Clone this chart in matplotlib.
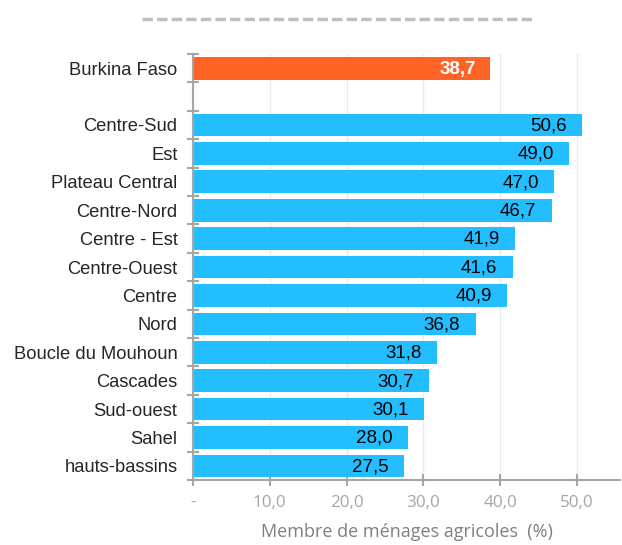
import numpy as np
import matplotlib.pyplot as plt
from matplotlib.lines import Line2D
from matplotlib.ticker import FixedLocator

# data
regions = ['Centre-Sud', 'Est', 'Plateau Central', 'Centre-Nord', 'Centre - Est',
           'Centre-Ouest', 'Centre', 'Nord', 'Boucle du Mouhoun', 'Cascades',
           'Sud-ouest', 'Sahel', 'hauts-bassins']
values = [50.6, 49.0, 47.0, 46.7, 41.9, 41.6, 40.9, 36.8, 31.8, 30.7, 30.1, 28.0, 27.5]
national_label = 'Burkina Faso'
national_value = 38.7
xticks = [0, 10, 20, 30, 40, 50]
xtick_labels = ['-', '10,0', '20,0', '30,0', '40,0', '50,0']

fig = plt.figure(figsize=(6.22, 5.45), dpi=100)
ax = fig.add_axes([0.310, 0.119, 0.687, 0.782])

labels = [national_label, ''] + regions
vals = [national_value, np.nan] + values
colors = ['#FF6326', '#FFFFFF'] + ['#22BEFF'] * len(regions)
y = np.arange(len(labels))

ax.barh(y, np.nan_to_num(vals), height=0.8, color=colors, zorder=2)

# value labels inside bar ends
for yi, v in zip(y, vals):
    if np.isnan(v):
        continue
    txt = '{:.1f}'.format(v).replace('.', ',')
    if yi == 0:
        ax.text(v - 1.8, yi + 0.03, txt, ha='right', va='center', color='white',
                fontsize=13.5, fontweight='bold', family='Liberation Sans', zorder=3)
    else:
        ax.text(v - 2.0, yi + 0.03, txt, ha='right', va='center', color='black',
                fontsize=13.5, family='Liberation Sans', zorder=3)

ax.set_ylim(len(labels) - 0.5, -0.5)
ax.set_xlim(0, 55.6)

ax.set_yticks(y)
ax.set_yticklabels(labels, fontsize=13.2, family='Liberation Sans', color='#262626')
ax.tick_params(axis='y', which='major', length=0, pad=11)
ax.yaxis.set_minor_locator(FixedLocator(np.arange(-0.5, len(labels), 1)))
ax.tick_params(axis='y', which='minor', length=9, width=1.5, color='#A6A6A6', direction='inout')

ax.set_xticks(xticks)
ax.set_xticklabels(xtick_labels, fontsize=12.3, family='Open Sans', color='#A6A6A6')
ax.tick_params(axis='x', length=9, width=1.5, color='#A6A6A6', direction='inout', pad=6)
ax.set_xlabel('Membre de ménages agricoles  (%)', fontsize=13, family='Open Sans',
              color='#7F7F7F', labelpad=9)

ax.grid(axis='x', color='#EBEBEB', linewidth=1, zorder=0)
for s in ['top', 'right']:
    ax.spines[s].set_visible(False)
for s in ['left', 'bottom']:
    ax.spines[s].set_color('#A6A6A6')
    ax.spines[s].set_linewidth(1.5)

# dashed line at the top (empty title placeholder)
fig.add_artist(Line2D([142 / 622, 534 / 622], [1 - 19 / 545, 1 - 19 / 545],
                      transform=fig.transFigure, color='#BFBFBF', linewidth=2.5,
                      linestyle=(0, (3, 1.2))))

fig.savefig('out.png', dpi=100)
